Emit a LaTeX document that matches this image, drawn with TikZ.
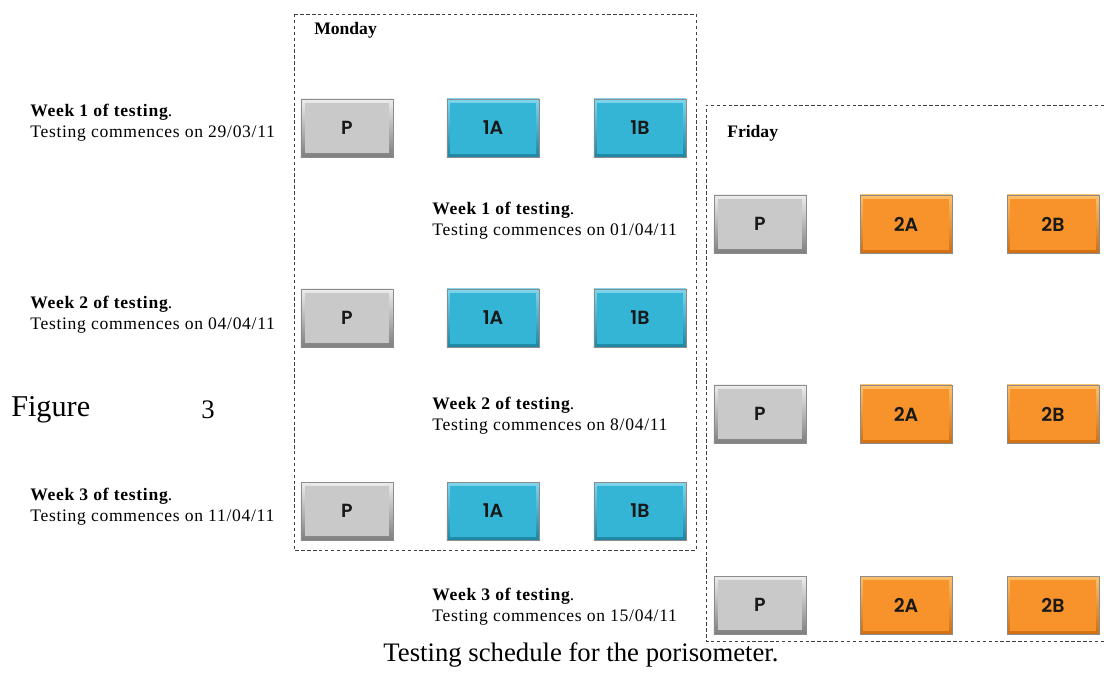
\documentclass[tikz,border=0pt]{standalone}
\usepackage{fontspec}
\setmainfont{Liberation Serif}
\newfontfamily\btnfont{Poppins SemiBold}
\usetikzlibrary{shadows}

\definecolor{greyface}{HTML}{C9C9C9}
\definecolor{greytop}{HTML}{EDEDED}
\definecolor{greybot}{HTML}{7F7F7F}
\definecolor{blueface}{HTML}{34B5D6}
\definecolor{bluetop}{HTML}{7FD6EE}
\definecolor{bluebot}{HTML}{1C86A3}
\definecolor{orangeface}{HTML}{F7932A}
\definecolor{orangetop}{HTML}{FDBF6A}
\definecolor{orangebot}{HTML}{D06F10}

\tikzstyle{button} = [rectangle, minimum width=2.3cm, minimum height=1.45cm, inner sep=0pt, text centered, draw=black!45, line width=0.3pt, font=\btnfont\fontsize{13.5}{14}\selectfont, text=black!90, drop shadow={shadow xshift=0.4pt, shadow yshift=-0.8pt, opacity=0.35}]
\tikzstyle{greybutton} = [button, top color=greytop, bottom color=greybot, path picture={\fill[greyface] ([shift={(3pt,-3pt)}]path picture bounding box.north west) rectangle ([shift={(-3pt,3pt)}]path picture bounding box.south east);}]
\tikzstyle{bluebutton} = [button, top color=bluetop, bottom color=bluebot, path picture={\fill[blueface] ([shift={(2pt,-2.5pt)}]path picture bounding box.north west) rectangle ([shift={(-2pt,2pt)}]path picture bounding box.south east);}]
\tikzstyle{orangebutton} = [button, top color=orangetop, bottom color=orangebot, path picture={\fill[orangeface] ([shift={(2pt,-2.5pt)}]path picture bounding box.north west) rectangle ([shift={(-2pt,2pt)}]path picture bounding box.south east);}]
\tikzstyle{dayframe} = [black!75, line width=0.5pt, dash pattern=on 2.4pt off 1.8pt]
\tikzstyle{week} = [anchor=west, align=left, inner sep=0pt, font=\fontsize{12.5}{15}\selectfont\addfontfeature{LetterSpace=4}]
\tikzstyle{daytitle} = [anchor=west, inner sep=0pt, font=\fontsize{12.5}{15}\selectfont\bfseries]
\tikzstyle{caption} = [inner sep=0pt, font=\fontsize{19}{22}\selectfont]

\begin{document}
\begin{tikzpicture}[x=0.025cm, y=-0.025cm]
	\useasboundingbox (0,0) rectangle (1104,678);
	% Day frames
	\draw [dayframe] (294,14) rectangle (696,550);
	\draw [dayframe] (1104,105) -- (706,105) -- (706,641) -- (1104,641);
	\node [daytitle] (Monday) at (314,30) {Monday};
	\node [daytitle] (Friday) at (727,133) {Friday};
	% Monday sessions
	\node [greybutton] (MonP1) at (347,128) {P};
	\node [bluebutton] (MonA1) at (493,128) {1A};
	\node [bluebutton] (MonB1) at (640,128) {1B};
	\node [greybutton] (MonP2) at (347,318) {P};
	\node [bluebutton] (MonA2) at (493,318) {1A};
	\node [bluebutton] (MonB2) at (640,318) {1B};
	\node [greybutton] (MonP3) at (347,511) {P};
	\node [bluebutton] (MonA3) at (493,511) {1A};
	\node [bluebutton] (MonB3) at (640,511) {1B};
	% Friday sessions
	\node [greybutton] (FriP1) at (760,224) {P};
	\node [orangebutton] (FriA1) at (906,224) {2A};
	\node [orangebutton] (FriB1) at (1053,224) {2B};
	\node [greybutton] (FriP2) at (760,414) {P};
	\node [orangebutton] (FriA2) at (906,414) {2A};
	\node [orangebutton] (FriB2) at (1053,414) {2B};
	\node [greybutton] (FriP3) at (760,605) {P};
	\node [orangebutton] (FriA3) at (906,605) {2A};
	\node [orangebutton] (FriB3) at (1053,605) {2B};
	% Week labels
	\node [week] (MonWeek1) at (30,123) {\textbf{Week 1 of testing}.\\Testing commences on 29/03/11};
	\node [week] (MonWeek2) at (30,315) {\textbf{Week 2 of testing}.\\Testing commences on 04/04/11};
	\node [week] (MonWeek3) at (30,507) {\textbf{Week 3 of testing}.\\Testing commences on 11/04/11};
	\node [week] (FriWeek1) at (432,221) {\textbf{Week 1 of testing}.\\Testing commences on 01/04/11};
	\node [week] (FriWeek2) at (432,416) {\textbf{Week 2 of testing}.\\Testing commences on 8/04/11};
	\node [week] (FriWeek3) at (432,607) {\textbf{Week 3 of testing}.\\Testing commences on 15/04/11};
	% Caption
	\node [caption, anchor=west, font=\fontsize{21.5}{24}\selectfont] (FigWord) at (11,410) {Figure};
	\node [caption] (FigNum) at (208,410) {3};
	\node [caption] (Caption) at (581,655) {Testing schedule for the porisometer.};
\end{tikzpicture}
\end{document}
